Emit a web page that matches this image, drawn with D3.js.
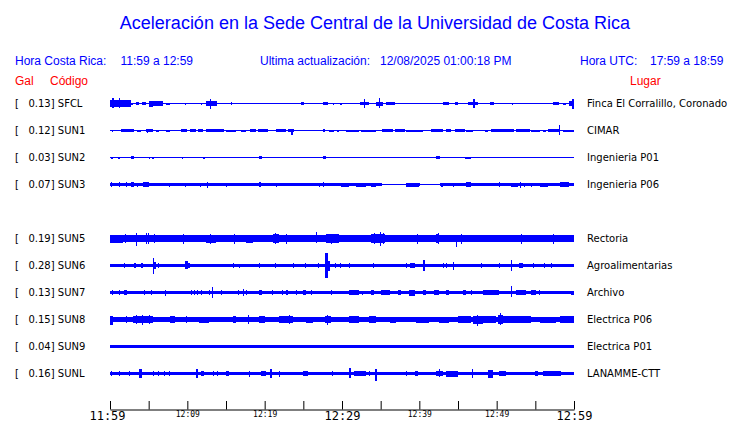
<!DOCTYPE html>
<html>
<head>
<meta charset="utf-8">
<script src="https://cdn.jsdelivr.net/npm/d3@7"></script>
<style>
  body { margin: 0; background: #fff; }
  text { white-space: pre; }
</style>
</head>
<body>
<div id="chart"></div>
<script>
// estaciones, en el orden de la figura (SUN4 no aparece)
const codes = ['SFCL', 'SUN1', 'SUN2', 'SUN3', 'SUN5', 'SUN6', 'SUN7', 'SUN8', 'SUN9', 'SUNL'];
const gal = [0.13, 0.12, 0.03, 0.07, 0.19, 0.28, 0.13, 0.15, 0.04, 0.16];
const places = ['Finca El Corralillo, Coronado', 'CIMAR', 'Ingenieria P01', 'Ingenieria P06',
  'Rectoria', 'Agroalimentarias', 'Archivo', 'Electrica P06', 'Electrica P01', 'LANAMME-CTT'];
const rowSlots = [0, 1, 2, 3, 5, 6, 7, 8, 9, 10];

// ruido de fondo (semi-amplitud) de cada traza
const baseAmp = [0.5, 0.5, 0.5, 0.5, 3.3, 1.7, 1.5, 2.5, 1.2, 1.8];

// envolventes: [minuto inicio, minuto fin, amplitud arriba, amplitud abajo]
const burstsSFCL = [
  [0, 2.7, 3.5, 3.5], [0.3, 0.5, 6, 4], [1.1, 1.3, 5.5, 4.3], [2.7, 2.95, 1, 1],
  [3.3, 3.8, 1.3, 1.3], [4.2, 4.6, 1.3, 1.3], [5.0, 6.8, 2.3, 2.3], [5.1, 5.5, 3, 3.3],
  [7.3, 7.7, 1, 1], [8.3, 8.45, 0.8, 0.8], [9.0, 9.1, 0.8, 0.8], [9.7, 9.85, 1, 1],
  [11.75, 11.9, 1, 1], [12.4, 13.9, 2.3, 2.3], [12.95, 13.1, 5, 5.3], [14.1, 14.25, 0.8, 0.8],
  [15.6, 15.75, 1.3, 1.3], [20.6, 20.7, 0.8, 0.8], [24.7, 25.15, 1.3, 1.3], [26.8, 26.95, 0.8, 0.8],
  [27.6, 28.2, 1.3, 1.3], [28.8, 28.95, 1, 1], [29.7, 30.05, 1, 1], [32.35, 33.55, 1.5, 1.5],
  [32.8, 32.95, 4.3, 4], [34.4, 35.3, 2, 2], [34.75, 34.9, 6, 4], [35.7, 36.8, 1.5, 1.5],
  [43.1, 43.8, 1.7, 1.7], [44.55, 45, 1.3, 1.3], [45.35, 45.5, 0.8, 0.8], [46.3, 47.6, 1.3, 1.3],
  [47, 47.15, 4.3, 4], [49.2, 49.6, 1.3, 1.3], [50.4, 50.55, 0.8, 0.8], [51.95, 52.1, 1, 1],
  [56.8, 56.95, 0.8, 0.8], [57.3, 58, 1.3, 1.3], [58.55, 59, 1, 1], [59.4, 60, 2.3, 2.3],
  [59.75, 59.9, 5, 5], [59.9, 60, 5, 5]
];
const burstsSUN1 = [
  [0.3, 0.45, 1, 1], [1.45, 3.15, 1.3, 1.3], [3.45, 4.05, 1, 1], [4.6, 5.55, 1.5, 1.5],
  [4.75, 4.9, 1.5, 2.7], [5.95, 6.4, 1, 1], [7.25, 7.7, 1, 1], [8, 8.1, 0.8, 0.8],
  [9.2, 9.95, 1.3, 1.3], [10.3, 11.15, 1.3, 1.3], [11.35, 12, 1.5, 1.5], [12.35, 14.8, 1.3, 1.3],
  [15, 16.3, 1, 1], [16.95, 17.6, 1, 1], [18.15, 18.9, 1.3, 1.3], [19.1, 20.4, 1.3, 1.3],
  [21.5, 22.8, 1.3, 1.3], [23, 23.85, 1.3, 1.3], [23.45, 23.6, 1.5, 4], [24.25, 24.4, 0.8, 0.8],
  [24.7, 24.8, 0.8, 0.8], [25.85, 25.95, 0.8, 0.8], [27.05, 27.15, 0.8, 0.8], [27.5, 27.85, 1.3, 1.3],
  [28.3, 29, 1, 1], [29.4, 29.55, 1, 1], [30.5, 32.25, 1, 1], [32.5, 34.4, 1, 1],
  [35.2, 36.6, 1.5, 1.5], [36.8, 38.1, 1.3, 1.3], [38.3, 40.45, 1, 1], [41.55, 43.05, 1.3, 1.3],
  [43.4, 44.1, 1.3, 1.3], [44.55, 45.85, 1.3, 1.3], [46.05, 46.9, 1, 1], [48.45, 48.85, 1, 1],
  [49.3, 52.3, 1.3, 1.3], [52.5, 54.25, 1.3, 1.3], [54.45, 55.55, 1, 1], [55.95, 56.4, 1, 1],
  [56.6, 58.15, 1.7, 1.7], [58.1, 58.2, 5.3, 4.3], [58.55, 60, 1, 1]
];
const burstsSUN2 = [
  [0.15, 0.45, 1, 1], [1, 1.3, 1, 1], [2.75, 3.15, 1.2, 1.2], [4.1, 4.25, 0.8, 0.8],
  [5, 5.2, 1, 1], [5.45, 5.75, 1, 1], [7.15, 7.25, 0.6, 0.6], [9.3, 9.4, 1, 1],
  [12.05, 12.3, 1, 1], [13.75, 13.9, 0.8, 0.8], [19.3, 19.7, 1.3, 1.3], [20.05, 20.2, 0.8, 0.8],
  [24.7, 24.8, 0.8, 0.8], [27.6, 27.95, 1.2, 1.2], [28.9, 29, 0.8, 0.8], [30.7, 30.8, 0.6, 0.6],
  [31.8, 31.9, 0.8, 0.8], [32.9, 33, 0.6, 0.6], [33.95, 34.05, 0.8, 0.8], [36.65, 36.75, 0.8, 0.8],
  [37.95, 38.75, 0.9, 0.9], [40, 40.1, 0.6, 0.6], [41.3, 41.4, 0.8, 0.8], [42.2, 42.7, 1.2, 1.2],
  [43.45, 43.55, 0.6, 0.6], [44.3, 44.4, 0.8, 0.8], [45.85, 46.7, 1, 1], [48.2, 48.85, 0.8, 0.8],
  [50.55, 50.65, 0.6, 0.6], [52.1, 53.8, 0.9, 0.9], [54.85, 54.95, 0.6, 0.6], [55.95, 56.05, 0.6, 0.6],
  [58.1, 58.2, 0.6, 0.6], [59.8, 59.9, 0.8, 0.8]
];
const burstsSUN3 = [
  [0, 35.2, 1.7, 1.7], [38.3, 40.1, 1.7, 1.7], [42.7, 60, 1.7, 1.7],
  [0.1, 0.25, 3, 2], [1.2, 1.3, 2.3, 2.3], [2.05, 2.15, 2.3, 2.3], [2.75, 3.15, 2.3, 2.3],
  [3.55, 3.65, 2, 2], [4.25, 5.1, 2.3, 2.3], [7.65, 7.75, 2, 2], [9.7, 9.8, 2, 2],
  [11.65, 11.75, 2, 2], [12.5, 12.65, 3, 3], [15, 15.1, 2, 2], [19.25, 19.55, 2.7, 2.7],
  [21.45, 21.55, 2, 2], [27.05, 27.15, 2, 2], [27.5, 27.6, 2.7, 2.7], [29.9, 30.95, 2, 2],
  [31.85, 33.1, 2, 2], [33.8, 34.4, 2, 2], [38.3, 40, 2, 2], [42.85, 43.05, 2, 2],
  [44.3, 44.4, 2, 2], [46.05, 46.7, 2.3, 2.3], [50.35, 50.45, 2.3, 2.3], [51.9, 52.75, 2, 2],
  [53, 53.1, 3, 3], [53.55, 53.65, 2, 2], [54.4, 54.5, 2, 2], [55.55, 56.6, 2, 2],
  [58.15, 59.4, 2.3, 2.3]
];
const burstsSUN5 = [
  [0, 1.65, 4, 4], [2, 2.1, 4.5, 4.5], [3.3, 3.45, 5.7, 7.7], [4.65, 4.75, 5.5, 5.5],
  [4.9, 5.0, 5.5, 5.5], [5.7, 5.8, 4.5, 4.5], [9.4, 9.5, 5, 5], [12.4, 13.7, 4, 4],
  [12.9, 13.0, 5, 5], [16.05, 16.15, 5, 5], [17.6, 18.5, 4, 4], [21.05, 21.9, 4.3, 4.3],
  [21.4, 21.5, 5.5, 5.5], [22.75, 22.85, 5, 5], [26.6, 26.7, 6.3, 4], [27.95, 29.65, 4.3, 4.3],
  [28.6, 28.7, 5, 5], [33.8, 35.5, 4.3, 4.3], [34.2, 34.3, 5.5, 5.5], [34.9, 35.0, 7, 7.3],
  [35.3, 35.4, 6, 5], [39.75, 39.85, 5, 5], [42.2, 42.6, 4.5, 4.5], [42.4, 42.5, 5.5, 5.5],
  [44.75, 44.85, 4, 8], [45.35, 45.45, 5, 5], [53.15, 53.25, 5, 5], [57.25, 57.35, 5, 5]
];
const burstsSUN6 = [
  [1.75, 1.85, 2.5, 2.5], [3.05, 3.3, 2.3, 2.3], [4, 4.25, 2.3, 2.3], [5.5, 5.75, 7.3, 8.7],
  [5.75, 5.95, 3.5, 3.5], [6.15, 6.25, 2.5, 2.5], [9.75, 10.05, 5, 3.3], [10.05, 10.3, 2.7, 2.7],
  [15.85, 15.95, 2.3, 2.3], [16.7, 16.8, 1.7, 2.5], [19.3, 19.4, 2.5, 2.5], [21.35, 21.45, 2.3, 2.3],
  [23.6, 23.7, 2.3, 2.3], [25.2, 25.3, 2.5, 2.5], [26.95, 27.05, 2.5, 2.5], [27.85, 28.15, 12.3, 12.7],
  [28.15, 28.4, 5, 5], [29.1, 29.2, 2.5, 2.5], [29.7, 29.8, 2.3, 2.3], [30.95, 31.05, 2.3, 2.3],
  [33.95, 34.05, 2.3, 2.3], [38.25, 38.35, 2.7, 2.7], [38.8, 39.4, 2.7, 2.7], [40.45, 40.7, 5.7, 5.7],
  [43, 43.1, 2.7, 2.7], [43.5, 43.6, 2.5, 2.5], [44.3, 44.4, 4, 4], [47.95, 48.05, 2.3, 2.3],
  [50.35, 50.45, 2.5, 2.5], [51.85, 51.95, 5.3, 5.3], [52.95, 53.4, 2.7, 2.7], [54.65, 54.75, 2.5, 2.5],
  [56.15, 56.25, 2.3, 2.3], [57, 57.1, 2.7, 2.7]
];
const burstsSUN7 = [
  [0.3, 0.45, 2.3, 2.3], [1.1, 1.2, 2.5, 2.5], [1.85, 2.2, 2.5, 2.5], [4.4, 4.5, 2.3, 2.3],
  [5.3, 5.4, 2.3, 2.3], [7.05, 7.3, 2.7, 3.7], [10.45, 10.55, 2.5, 2.5], [10.9, 11, 2.3, 2.3],
  [11.3, 11.4, 2.5, 2.5], [11.75, 11.85, 2.5, 2.5], [12.85, 12.95, 2.5, 2.5], [13.25, 13.35, 5.3, 5.7],
  [14.35, 14.45, 2.3, 2.3], [16.5, 16.6, 2.3, 2.3], [17.15, 17.25, 3.7, 3.7], [17.6, 17.7, 2.3, 2.3],
  [19.3, 19.65, 2.7, 2.7], [21, 21.1, 2.5, 2.5], [22.2, 22.3, 2.7, 2.7], [22.75, 23, 2.7, 2.7],
  [24.05, 24.15, 2.3, 2.3], [25, 25.3, 2.7, 2.7], [26, 26.1, 2.3, 2.3], [28.55, 28.65, 2.3, 2.3],
  [30.95, 32.25, 2.3, 2.3], [32.65, 32.75, 2, 2], [33.75, 34.2, 2.3, 2.3], [35.05, 36.15, 2.3, 2.3],
  [37.2, 37.65, 2.7, 2.7], [38.7, 39.4, 3, 3], [40.45, 40.9, 2.7, 2.7], [41.95, 42.6, 2.3, 2.3],
  [43.45, 43.9, 2.3, 2.3], [45.6, 46.05, 2.3, 2.3], [46.65, 46.75, 2.3, 2.3], [48.2, 50.35, 2.7, 2.7],
  [51.85, 51.95, 6.3, 4.3], [52.5, 53.8, 2.5, 2.5], [54.45, 55.1, 2.3, 2.3], [55.5, 55.6, 2.3, 2.3],
  [59.65, 60, 2, 2]
];
const burstsSUN8 = [
  [0, 0.35, 4, 5.3], [2.05, 2.15, 3.5, 3.5], [2.95, 5.55, 3.3, 3.3], [3.35, 3.45, 4.5, 4.5],
  [4.1, 4.25, 5, 5], [5.05, 5.15, 4.5, 4.5], [7.7, 8.35, 3.7, 3.7], [9.8, 9.9, 3.3, 3.3],
  [11.55, 12.85, 3, 3], [15.85, 16.3, 3.3, 3.3], [17.8, 17.9, 4.3, 4.3], [19.3, 20, 3.3, 3.3],
  [21.9, 23.65, 3.3, 3.3], [23.15, 23.3, 4.7, 4.7], [25.35, 26.25, 3, 3], [27.75, 28.6, 3.5, 3.5],
  [28.1, 28.25, 5, 5], [30.95, 32.25, 3.3, 3.3], [33.55, 34.4, 3.3, 3.3], [36.15, 37, 3, 3],
  [39.6, 41.3, 3, 3], [42.6, 43.9, 3, 3], [45, 46.7, 3.5, 3.5], [46.9, 48.2, 4, 4],
  [47.5, 47.65, 4.3, 6], [48.2, 49.95, 3.5, 3.5], [50.15, 50.8, 4.3, 4.3], [50.4, 50.55, 6.7, 5.3],
  [50.8, 54.45, 3.3, 3.3], [55.55, 57.7, 3, 3], [58.15, 60, 3.3, 3.3]
];
const burstsSUN9 = [
  [6.4, 6.7, 1.5, 1.5], [11.8, 12.1, 1.4, 1.4], [20.2, 20.5, 1.4, 1.4], [24.6, 24.9, 1.5, 1.5],
  [37.9, 38.2, 1.4, 1.4], [47.1, 47.4, 1.4, 1.4], [52.3, 52.6, 1.4, 1.4]
];
const burstsSUNL = [
  [0.1, 0.25, 2.7, 2.7], [1.2, 1.3, 2.3, 2.3], [2.5, 2.6, 2.3, 2.3], [3.8, 4.15, 4.3, 4.3],
  [5.5, 5.6, 2.3, 2.3], [6.15, 6.25, 2.3, 2.3], [7, 7.1, 2.3, 2.3], [7.65, 7.75, 2.3, 2.3],
  [11.1, 11.35, 4.3, 4.7], [11.8, 12.2, 2.3, 2.3], [13.3, 13.5, 2.7, 2.7], [13.9, 14, 2.7, 2.7],
  [15, 15.45, 2.7, 2.7], [18, 18.1, 3, 3], [19.55, 20.2, 2.5, 2.5], [20.7, 20.95, 4.7, 4.3],
  [21.9, 22, 3, 3], [24.95, 25.6, 2.5, 2.5], [28.75, 28.85, 2.3, 2.3], [30.95, 31.2, 5.3, 4.3],
  [31.6, 33.1, 2.5, 2.5], [33.5, 33.6, 2.3, 2.3], [34.3, 34.5, 5, 7], [38.25, 38.35, 2.3, 2.3],
  [39.5, 39.8, 2.7, 2.7], [42.2, 43.05, 2.7, 2.7], [42.55, 42.65, 4.3, 3.3], [43.45, 45, 3, 3],
  [46.8, 46.9, 4.7, 4.3], [48.85, 49.5, 4, 4.3], [50.35, 51.2, 2.3, 2.3], [54.9, 55.3, 2.5, 2.5],
  [55.95, 58.35, 2.3, 2.3]
];
const bursts = [burstsSFCL, burstsSUN1, burstsSUN2, burstsSUN3, burstsSUN5,
  burstsSUN6, burstsSUN7, burstsSUN8, burstsSUN9, burstsSUNL];

// eje de tiempo (minutos desde 11:59)
const tickMinutes = [0, 5, 10, 15, 20, 25, 30, 35, 40, 45, 50, 55, 60];
const labelMinutes = [0, 10, 20, 30, 40, 50, 60];
const labelTexts = ['11:59', '12:09', '12:19', '12:29', '12:39', '12:49', '12:59'];
const majorMinutes = [0, 30, 60];

const width = 740, height = 423;
const blue = '#0000ff', red = '#ff0000';
const sans = '"Liberation Sans", Arial, sans-serif';
const deja = '"DejaVu Sans", sans-serif';

const svg = d3.select('#chart')
              .append('svg')
              .attr('width', width)
              .attr('height', height)
              .style('display', 'block');

svg.append('rect').attr('width', width).attr('height', height).attr('fill', '#fff');

const x = d3.scaleLinear().domain([0, 60]).range([110, 574]);
const y = d3.scaleLinear().domain([0, 10]).range([103.5, 373.5]);
const amp = d3.scaleLinear().domain([0, 13.5]).range([0, 13.5]);

// titulo y encabezados
svg.append('text')
   .attr('x', 375).attr('y', 29)
   .attr('text-anchor', 'middle')
   .attr('font-family', sans).attr('font-size', 18)
   .attr('fill', blue)
   .text('Aceleración en la Sede Central de la Universidad de Costa Rica');

const header = [
  [15, 'Hora Costa Rica:'], [120.5, '11:59 a 12:59'],
  [260, 'Ultima actualización:'], [380, '12/08/2025 01:00:18 PM'],
  [580, 'Hora UTC:'], [650, '17:59 a 18:59']
];
svg.selectAll('text.head')
   .data(header)
   .enter()
   .append('text')
   .attr('class', 'head')
   .attr('x', d => d[0]).attr('y', 65)
   .attr('font-family', sans).attr('font-size', 12)
   .attr('fill', blue)
   .text(d => d[1]);

const colHeads = [[15, 'Gal'], [50, 'Código'], [630, 'Lugar']];
svg.selectAll('text.col')
   .data(colHeads)
   .enter()
   .append('text')
   .attr('class', 'col')
   .attr('x', d => d[0]).attr('y', 85)
   .attr('font-family', sans).attr('font-size', 12)
   .attr('fill', red)
   .text(d => d[1]);

// trazas
const row = svg.selectAll('g.row')
               .data(codes)
               .enter()
               .append('g')
               .attr('class', 'row')
               .attr('transform', (d, i) => `translate(0, ${y(rowSlots[i])})`);

row.append('text')
   .attr('x', 15).attr('y', 3.5)
   .attr('font-family', deja).attr('font-size', 10)
   .attr('fill', '#000')
   .text((d, i) => `[   ${gal[i].toFixed(2)}] ${d}`);

row.append('text')
   .attr('x', 587).attr('y', 3.5)
   .attr('font-family', deja).attr('font-size', 10)
   .attr('fill', '#000')
   .text((d, i) => places[i]);

const trace = row.append('g')
                 .attr('shape-rendering', 'crispEdges')
                 .attr('fill', blue);

trace.append('rect')
     .attr('x', x(0))
     .attr('width', x(60) - x(0))
     .attr('y', (d, i) => -amp(baseAmp[i]))
     .attr('height', (d, i) => 2 * amp(baseAmp[i]));

trace.each(function(d, i) {
  d3.select(this).selectAll('rect.burst')
    .data(bursts[i])
    .enter()
    .append('rect')
    .attr('class', 'burst')
    .attr('x', b => x(b[0]))
    .attr('width', b => Math.max(1, x(b[1]) - x(b[0])))
    .attr('y', b => -amp(b[2]))
    .attr('height', b => amp(b[2]) + amp(b[3]));
});

// eje inferior
const axis = d3.axisBottom(x)
               .tickValues(tickMinutes)
               .tickSizeInner(-8.5)
               .tickSizeOuter(0)
               .tickFormat(m => {
                 const k = labelMinutes.indexOf(m);
                 return k < 0 ? '' : labelTexts[k];
               });

const gAxis = svg.append('g')
                 .attr('transform', 'translate(0, 409.5)')
                 .call(axis);

gAxis.select('.domain').attr('stroke', '#000');
gAxis.selectAll('.tick line').attr('stroke', '#000');
gAxis.selectAll('.tick text')
     .attr('fill', '#000')
     .attr('font-family', '"DejaVu Sans Mono", monospace')
     .attr('dy', null)
     .attr('dx', m => m === 0 ? -3 : 0)
     .attr('y', m => majorMinutes.includes(m) ? 10 : 7.5)
     .attr('font-size', m => majorMinutes.includes(m) ? 12 : 8);
</script>
</body>
</html>
